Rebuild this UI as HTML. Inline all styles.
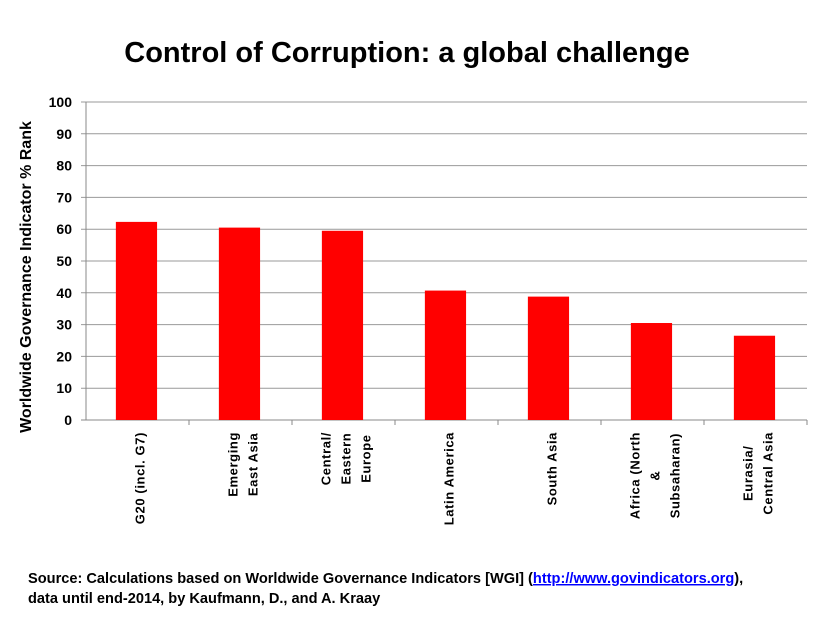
<!DOCTYPE html>
<html><head><meta charset="utf-8"><style>
body{margin:0;background:#fff;}
svg text{font-family:"Liberation Sans",sans-serif;font-weight:bold;}
</style></head><body>
<svg width="818" height="612" viewBox="0 0 818 612">
<text x="407" y="62" text-anchor="middle" font-size="29">Control of Corruption: a global challenge</text>
<g id="grid"></g><g id="bars"></g><g id="axes"></g>
<text transform="translate(31,277) rotate(-90)" text-anchor="middle" font-size="16">Worldwide Governance Indicator % Rank</text>
<text x="28" y="583" font-size="14.6">Source: Calculations based on Worldwide Governance Indicators [WGI] (<tspan fill="#00f" text-decoration="underline">http://www.govindicators.org</tspan>),</text>
<text x="28" y="603" font-size="14.6">data until end-2014, by Kaufmann, D., and A. Kraay</text>
</svg>
<script>
const categories=[["G20 (incl. G7)"],["Emerging","East Asia"],["Central/","Eastern","Europe"],["Latin America"],["South Asia"],["Africa (North","&","Subsaharan)"],["Eurasia/","Central Asia"]];
const values=[62.3,60.5,59.5,40.7,38.8,30.5,26.5];
const yTicks=[0,10,20,30,40,50,60,70,80,90,100];
const NS="http://www.w3.org/2000/svg";
const x0=86,x1=807,y0=420,y1=102;
const bw=(x1-x0)/values.length;
const ys=v=>y0-(v/100)*(y0-y1);
const xs=i=>x0+bw*i;
function mk(tag,a,parent){const e=document.createElementNS(NS,tag);for(const k in a)e.setAttribute(k,a[k]);document.getElementById(parent).appendChild(e);return e;}
yTicks.forEach(t=>{
 const l=mk('line',{x1:x0-5,x2:x1,y1:ys(t),y2:ys(t),stroke:t===0?'#888':'#999','stroke-width':1},'grid');
 
 
 const tx=mk('text',{x:x0-14,y:ys(t)+5,'text-anchor':'end','font-size':14},'axes');
 tx.textContent=t;
 
 
});
const ax=mk('line',{x1:x0,x2:x0,y1:y1,y2:y0,stroke:'#888'},'axes');


values.forEach((v,i)=>{
 const r=mk('rect',{x:xs(i)+bw*0.29,width:bw*0.4,y:ys(v),height:y0-ys(v),fill:'#ff0000'},'bars');
 
 
 const tk=mk('line',{x1:xs(i+1),x2:xs(i+1),y1:y0,y2:y0+5,stroke:'#888'},'axes');
 
 
 const lines=categories[i];
 const cx=xs(i)+bw/2+2;
 const els=[];
 lines.forEach((s,j)=>{
  const off=(j-(lines.length-1)/2)*20;
  const t=mk('text',{'text-anchor':'middle','font-size':13,'letter-spacing':'0.6'},'axes');
  t.textContent=s;
  
  
  els.push([t,off]);
 });
 const maxL=Math.max(...els.map(e=>e[0].getComputedTextLength()));
 els.forEach(([t,off])=>{
  t.setAttribute('transform',`translate(${cx+off+5},${432+maxL/2}) rotate(-90)`);
 });
});
</script>
</body></html>
